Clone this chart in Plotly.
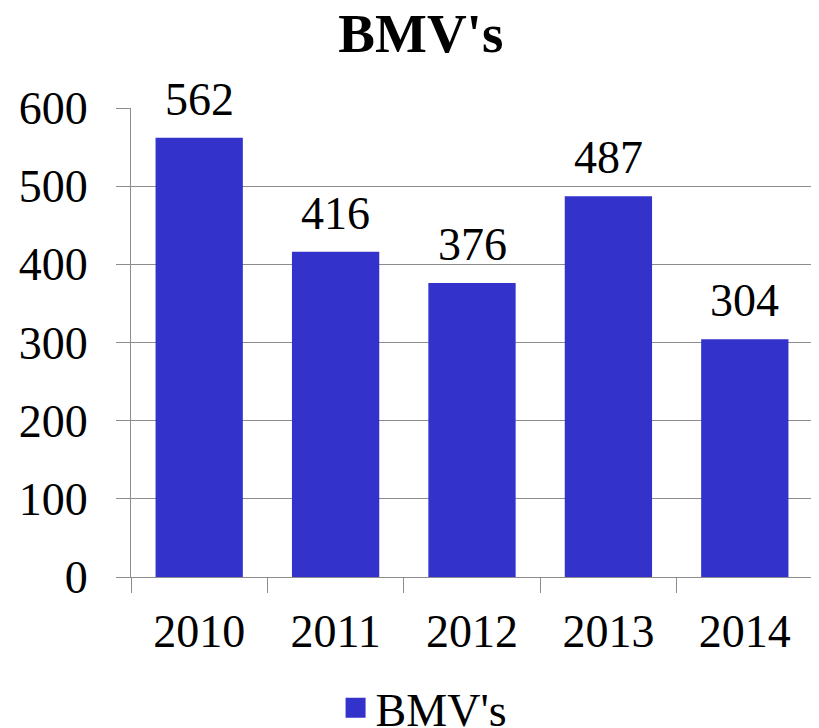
import plotly.graph_objects as go

# Chart data
years = ["2010", "2011", "2012", "2013", "2014"]
bmv_counts = [562, 416, 376, 487, 304]
y_ticks = [0, 100, 200, 300, 400, 500, 600]

BAR_COLOR = "#3333cc"
GRID_COLOR = "#8c8c8c"
FONT = "Liberation Serif, Times New Roman, serif"

# the page body has an 8px margin, so the figure is drawn 8px smaller
FIG_W, FIG_H = 811, 720

fig = go.Figure()
fig.add_trace(
    go.Bar(
        x=years,
        y=bmv_counts,
        name="BMV's",
        marker=dict(color=BAR_COLOR, line=dict(width=0)),
        showlegend=False,
        cliponaxis=False,
    )
)
# legend proxy so the key square can be larger than the default bar swatch
fig.add_trace(
    go.Scatter(
        x=[years[0]],
        y=[None],
        mode="markers",
        name="BMV's",
        marker=dict(symbol="square", size=16, color=BAR_COLOR, line=dict(color=BAR_COLOR, width=4)),
    )
)

# value labels above the bars (category index: year strings look numeric)
for i, val in enumerate(bmv_counts):
    fig.add_annotation(
        x=i,
        y=val,
        text=str(val),
        showarrow=False,
        yanchor="bottom",
        yshift=11,
        font=dict(family=FONT, size=46, color="black"),
    )

fig.update_layout(
    width=FIG_W,
    height=FIG_H,
    paper_bgcolor="white",
    plot_bgcolor="white",
    font=dict(family=FONT, size=46, color="black"),
    title=dict(
        text="<b>BMV's</b>",
        x=0.509,
        xanchor="center",
        y=0.993,
        yanchor="top",
        font=dict(family=FONT, size=55, color="black"),
    ),
    margin=dict(l=123, r=6, t=100, b=151),
    bargap=0.36,
    showlegend=True,
    legend=dict(
        orientation="h",
        x=0.429,
        xanchor="center",
        yref="container",
        y=0.028,
        yanchor="middle",
        font=dict(family=FONT, size=46),
    ),
)

fig.update_xaxes(
    type="category",
    categoryorder="array",
    categoryarray=years,
    range=[-0.5, len(years) - 0.5],
    automargin=False,
    showgrid=False,
    showline=True,
    linecolor=GRID_COLOR,
    linewidth=1.3,
    ticks="outside",
    tickson="boundaries",
    ticklen=15,
    tickcolor=GRID_COLOR,
    tickwidth=1.3,
    tickangle=0,
    ticklabelstandoff=14,
)
fig.update_yaxes(
    automargin=False,
    range=[0, 600],
    tickvals=y_ticks,
    showgrid=True,
    gridcolor=GRID_COLOR,
    gridwidth=1.3,
    showline=True,
    linecolor=GRID_COLOR,
    linewidth=1.3,
    ticks="outside",
    ticklen=14,
    tickcolor=GRID_COLOR,
    tickwidth=1.3,
    ticklabelstandoff=19,
    zeroline=False,
)

fig.write_html("out.html")
